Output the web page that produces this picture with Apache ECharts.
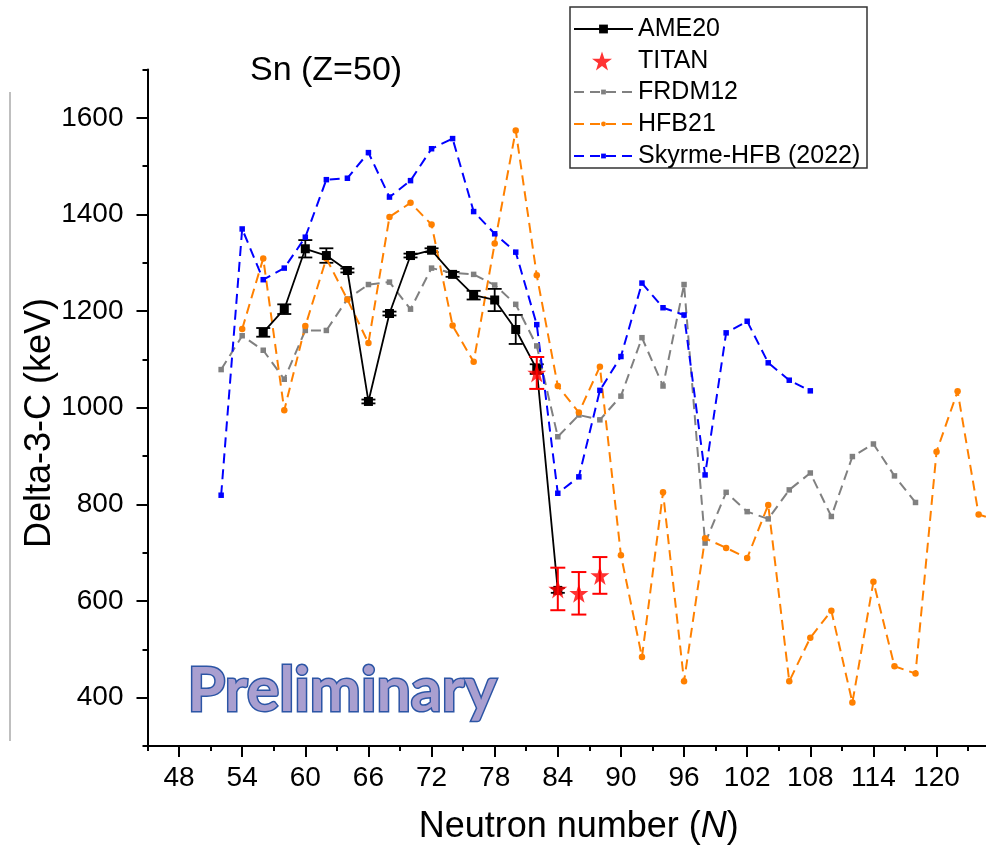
<!DOCTYPE html>
<html><head><meta charset="utf-8">
<script src="https://cdn.jsdelivr.net/npm/echarts@6/dist/echarts.min.js"></script>
<style>html,body{margin:0;padding:0;background:#fff}#c{width:986px;height:850px}</style>
</head><body><div id="c"></div>
<script>
// ---- data ----
const ameN   = [56, 58, 60, 62, 64, 66, 68, 70, 72, 74, 76, 78, 80, 82, 84];
const ameVal = [1156, 1204, 1329, 1315, 1284, 1013, 1195, 1315, 1326, 1276, 1233, 1223, 1162, 1080, 622];
const ameErr = [9, 10, 18, 15, 4, 4, 4, 4, 4, 5, 9, 23, 30, 10, 5];

const titanN   = [82, 84, 86, 88];
const titanVal = [1072, 625, 616, 653];
const titanErr = [33, 44, 44, 38];

const frdmN   = [52, 54, 56, 58, 60, 62, 64, 66, 68, 70, 72, 74, 76, 78, 80, 82, 84, 86, 88, 90, 92, 94, 96, 98, 100, 102, 104, 106, 108, 110, 112, 114, 116, 118];
const frdmVal = [1079, 1149, 1119, 1059, 1160, 1160, 1225, 1255, 1260, 1204, 1289, 1279, 1276, 1254, 1214, 1128, 940, 985, 975, 1024, 1145, 1045, 1255, 720, 825, 785, 770, 830, 865, 775, 899, 925, 859, 804];

const hfbN   = [54, 56, 58, 60, 62, 64, 66, 68, 70, 72, 74, 76, 78, 80, 82, 84, 86, 88, 90, 92, 94, 96, 98, 100, 102, 104, 106, 108, 110, 112, 114, 116, 118, 120, 122, 124, 126];
const hfbVal = [1163, 1309, 995, 1169, 1309, 1224, 1134, 1395, 1424, 1379, 1170, 1095, 1340, 1574, 1274, 1045, 990, 1085, 695, 484, 825, 434, 730, 710, 689, 799, 434, 524, 580, 390, 640, 465, 450, 909, 1034, 779, 765];

const skyN   = [52, 54, 56, 58, 60, 62, 64, 66, 68, 70, 72, 74, 76, 78, 80, 82, 84, 86, 88, 90, 92, 94, 96, 98, 100, 102, 104, 106, 108];
const skyVal = [819, 1370, 1265, 1289, 1353, 1472, 1475, 1528, 1436, 1470, 1536, 1557, 1406, 1360, 1322, 1172, 823, 857, 1036, 1106, 1258, 1207, 1192, 861, 1155, 1179, 1093, 1057, 1035];

const xMajorTicks = [48, 54, 60, 66, 72, 78, 84, 90, 96, 102, 108, 114, 120];
const xMinorTicks = [45, 51, 57, 63, 69, 75, 81, 87, 93, 99, 105, 111, 117, 123];
const yMajorTicks = [400, 600, 800, 1000, 1200, 1400, 1600];
const yMinorTicks = [300, 500, 700, 900, 1100, 1300, 1500, 1700];

// ---- chart ----
const FONT = '"Liberation Sans", Arial, sans-serif';
const STAR = 'path://M50,0 L61.8,35.1 L98.9,35.1 L68.8,56.7 L79.4,91.9 L50,70.5 L20.6,91.9 L31.2,56.7 L1.1,35.1 L38.2,35.1 Z';
const pairs = (xs, ys) => xs.map((x, i) => [x, ys[i]]);
const triples = (xs, ys, es) => xs.map((x, i) => [x, ys[i], es[i]]);
function errRender(capHalf, color, lw) {
  return function (params, api) {
    const x = api.value(0), y = api.value(1), e = api.value(2);
    const lo = api.coord([x, y - e]), hi = api.coord([x, y + e]);
    const st = { stroke: color, lineWidth: lw };
    return { type: 'group', children: [
      { type: 'line', shape: { x1: lo[0], y1: lo[1], x2: hi[0], y2: hi[1] }, style: st },
      { type: 'line', shape: { x1: lo[0] - capHalf, y1: lo[1], x2: lo[0] + capHalf, y2: lo[1] }, style: st },
      { type: 'line', shape: { x1: hi[0] - capHalf, y1: hi[1], x2: hi[0] + capHalf, y2: hi[1] }, style: st }
    ]};
  };
}
const chart = echarts.init(document.getElementById('c'));
const legendCommon = {
  orient: 'vertical', left: 573, padding: 0, itemWidth: 59, selectedMode: false, z: 20,
  textStyle: { fontFamily: FONT, fontSize: 25, color: '#000', lineHeight: 28 }
};
const option = {
  animation: false,
  backgroundColor: '#fff',
  grid: { left: 147.5, right: 0, top: 69.5, bottom: 102.5, containLabel: false },
  xAxis: [{
    type: 'value', min: 45, max: 124.7,
    name: 'Neutron number ({i|N})', nameLocation: 'middle', nameGap: 63,
    nameTextStyle: { fontFamily: FONT, fontSize: 36, color: '#000', padding: [0, 0, 0, 24],
      rich: { i: { fontFamily: FONT, fontSize: 36, fontStyle: 'italic', color: '#000' } } },
    axisLine: { lineStyle: { color: '#000', width: 2 } },
    axisTick: { customValues: xMajorTicks, length: 11, lineStyle: { color: '#000', width: 2 } },
    axisLabel: { customValues: xMajorTicks, margin: 18, fontFamily: FONT, fontSize: 28, color: '#000', formatter: v => String(v) },
    splitLine: { show: false }
  }, {
    type: 'value', min: 45, max: 124.7, position: 'bottom',
    axisLine: { show: false },
    axisTick: { customValues: xMinorTicks, length: 5, lineStyle: { color: '#000', width: 2 } },
    axisLabel: { show: false }, splitLine: { show: false }
  }],
  yAxis: [{
    type: 'value', min: 300, max: 1700,
    axisLine: { lineStyle: { color: '#000', width: 2 } },
    axisTick: { customValues: yMajorTicks, length: 11, lineStyle: { color: '#000', width: 2 } },
    axisLabel: { customValues: yMajorTicks, margin: 24, fontFamily: FONT, fontSize: 28, color: '#000', formatter: v => String(v) },
    splitLine: { show: false }
  }, {
    type: 'value', min: 300, max: 1700, position: 'left',
    axisLine: { show: false },
    axisTick: { customValues: yMinorTicks, length: 5, lineStyle: { color: '#000', width: 2 } },
    axisLabel: { show: false }, splitLine: { show: false }
  }],
  legend: [
    Object.assign({}, legendCommon, { data: ['AME20'], top: 15, itemHeight: 11 }),
    Object.assign({}, legendCommon, { data: ['TITAN'], top: 47, left: 592, itemWidth: 20, itemHeight: 20,
      textStyle: Object.assign({}, legendCommon.textStyle, { padding: [0, 0, 0, 21] }) }),
    Object.assign({}, legendCommon, { data: ['FRDM12', 'HFB21', 'Skyrme-HFB (2022)'], top: 78, itemHeight: 6, itemGap: 4 })
  ],
  graphic: [
    { type: 'rect', z: 10, shape: { x: 570, y: 7, width: 297, height: 161 }, style: { fill: '#fff', stroke: '#333', lineWidth: 1.5 } },
    { type: 'line', z: 1, shape: { x1: 10, y1: 92, x2: 10, y2: 741 }, style: { stroke: '#aaa', lineWidth: 1.5 } },
    { type: 'text', z: 10, left: 250, top: 54, style: { text: 'Sn (Z=50)', fontFamily: FONT, fontSize: 34, fill: '#000' } },
    { type: 'text', z: 10, x: 40, y: 423, rotation: Math.PI / 2, style: {
        text: 'Delta-3-C (keV)', fontFamily: FONT, fontSize: 36, fill: '#000', align: 'center', verticalAlign: 'middle' } },
    { type: 'text', z: 10, left: 186, top: 659, style: {
        text: 'Preliminary', fontFamily: 'Lato, "Open Sans", sans-serif', fontWeight: 'bold', fontSize: 61,
        fill: '#a99fd0', stroke: '#2c55a5', lineWidth: 3,
        shadowColor: 'rgba(0,0,0,0.3)', shadowBlur: 3, shadowOffsetX: 1, shadowOffsetY: 2 } }
  ],
  series: [
    { name: 'FRDM12', type: 'line', data: pairs(frdmN, frdmVal), symbol: 'rect', symbolSize: 5.5,
      itemStyle: { color: '#808080' }, lineStyle: { color: '#808080', width: 2, type: [10, 6] } },
    { name: 'HFB21', type: 'line', data: pairs(hfbN, hfbVal), symbol: 'circle', symbolSize: 6.5,
      itemStyle: { color: '#ff8000' }, lineStyle: { color: '#ff8000', width: 2, type: [10, 6] } },
    { name: 'Skyrme-HFB (2022)', type: 'line', data: pairs(skyN, skyVal), symbol: 'rect', symbolSize: 5.5,
      itemStyle: { color: '#0000ff' }, lineStyle: { color: '#0000ff', width: 2, type: [10, 6] } },
    { name: 'AME20err', type: 'custom', data: triples(ameN, ameVal, ameErr), renderItem: errRender(7, '#000', 1.8), encode: { x: 0, y: 1 }, z: 3 },
    { name: 'AME20', type: 'line', data: pairs(ameN, ameVal), symbol: 'rect', symbolSize: 9,
      itemStyle: { color: '#000' }, lineStyle: { color: '#000', width: 1.8 }, z: 4 },
    { name: 'TITANerr', type: 'custom', data: triples(titanN, titanVal, titanErr), renderItem: errRender(7.5, '#ff0000', 2), encode: { x: 0, y: 1 }, z: 5 },
    { name: 'TITAN', type: 'scatter', data: pairs(titanN, titanVal), symbol: STAR, symbolSize: 19,
      itemStyle: { color: '#ff0000' }, z: 6 }
  ]
};
chart.setOption(option);
</script>
</body></html>
